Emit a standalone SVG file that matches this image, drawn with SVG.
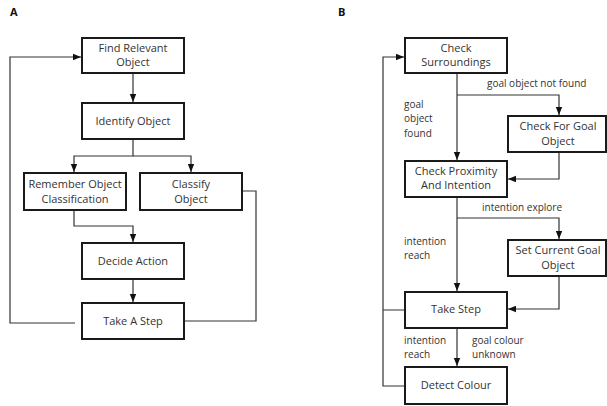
<svg xmlns="http://www.w3.org/2000/svg" width="607" height="406" viewBox="0 0 607 406">
<style>
.box{fill:#fff;stroke:#1a1a1a;stroke-width:2}
.t{font-family:"Open Sans","Noto Sans",sans-serif;font-size:11px;fill:#333;text-anchor:middle}
.l{font-family:"Open Sans","Noto Sans",sans-serif;font-size:10px;fill:#333}
.c{fill:none;stroke:#333;stroke-width:1.2}
.h{font-family:"Open Sans","Noto Sans",sans-serif;font-size:11px;font-weight:bold;fill:#111}
</style>
<defs>
<marker id="a" viewBox="0 0 10 10" refX="10" refY="5" markerWidth="8" markerHeight="8" markerUnits="userSpaceOnUse" orient="auto">
<path d="M0,1 L10,5 L0,9 Z" fill="#111"/>
</marker>
</defs>
<rect width="607" height="406" fill="#fff"/>
<text class="h" x="10" y="16">A</text>
<text class="h" x="338" y="16">B</text>
<g id="connectors">
<path class="c" d="M133,73 V102" marker-end="url(#a)"/>
<path class="c" d="M133,139 V156 H74 V172" marker-end="url(#a)"/>
<path class="c" d="M133,156 H191 V172" marker-end="url(#a)"/>
<path class="c" d="M74,210 V226 H133 V242" marker-end="url(#a)"/>
<path class="c" d="M133,280 V302" marker-end="url(#a)"/>
<path class="c" d="M242,191 H256 V321 H184"/>
<path class="c" d="M75,323 H10 V57 H81" marker-end="url(#a)"/>
<path class="c" d="M457,73 V160" marker-end="url(#a)"/>
<path class="c" d="M457,95 H559 V115" marker-end="url(#a)"/>
<path class="c" d="M559,152 V179 H508" marker-end="url(#a)"/>
<path class="c" d="M457,197 V291" marker-end="url(#a)"/>
<path class="c" d="M457,218 H559 V239" marker-end="url(#a)"/>
<path class="c" d="M559,276 V309 H508" marker-end="url(#a)"/>
<path class="c" d="M457,328 V366" marker-end="url(#a)"/>
<path class="c" d="M405,310 H383 M405,386 H383 V57 H404" marker-end="url(#a)"/>
<text class="l" x="487" y="87">goal object not found</text>
<text class="l" x="404" y="108">goal</text>
<text class="l" x="404" y="122">object</text>
<text class="l" x="404" y="137">found</text>
<text class="l" x="482" y="211">intention explore</text>
<text class="l" x="404" y="245">intention</text>
<text class="l" x="404" y="259">reach</text>
<text class="l" x="404" y="344">intention</text>
<text class="l" x="404" y="358">reach</text>
<text class="l" x="472" y="344">goal colour</text>
<text class="l" x="472" y="358">unknown</text>
</g>
<g id="find"><rect class="box" x="82" y="38" width="102" height="35"/><text class="t" x="133" y="52">Find Relevant</text><text class="t" x="133" y="66">Object</text></g>
<g id="identify"><rect class="box" x="82" y="103" width="102" height="36"/><text class="t" x="133" y="125">Identify Object</text></g>
<g id="remember"><rect class="box" x="24" y="173" width="102" height="37"/><text class="t" x="75" y="188">Remember Object</text><text class="t" x="75" y="203">Classification</text></g>
<g id="classify"><rect class="box" x="140" y="173" width="102" height="37"/><text class="t" x="191" y="188">Classify</text><text class="t" x="191" y="203">Object</text></g>
<g id="decide"><rect class="box" x="82" y="243" width="102" height="36"/><text class="t" x="133" y="265">Decide Action</text></g>
<g id="takeastep"><rect class="box" x="82" y="303" width="102" height="36"/><text class="t" x="133" y="325">Take A Step</text></g>
<g id="surroundings"><rect class="box" x="405" y="38" width="102" height="35"/><text class="t" x="456" y="52">Check</text><text class="t" x="456" y="66">Surroundings</text></g>
<g id="goalobj"><rect class="box" x="508" y="116" width="98" height="36"/><text class="t" x="558" y="130">Check For Goal</text><text class="t" x="558" y="145">Object</text></g>
<g id="proximity"><rect class="box" x="405" y="161" width="102" height="36"/><text class="t" x="456" y="175">Check Proximity</text><text class="t" x="456" y="189">And Intention</text></g>
<g id="setgoal"><rect class="box" x="508" y="240" width="98" height="36"/><text class="t" x="558" y="254">Set Current Goal</text><text class="t" x="558" y="269">Object</text></g>
<g id="takestep"><rect class="box" x="405" y="292" width="102" height="36"/><text class="t" x="456" y="313">Take Step</text></g>
<g id="detect"><rect class="box" x="405" y="367" width="102" height="37"/><text class="t" x="456" y="389">Detect Colour</text></g>
</svg>
